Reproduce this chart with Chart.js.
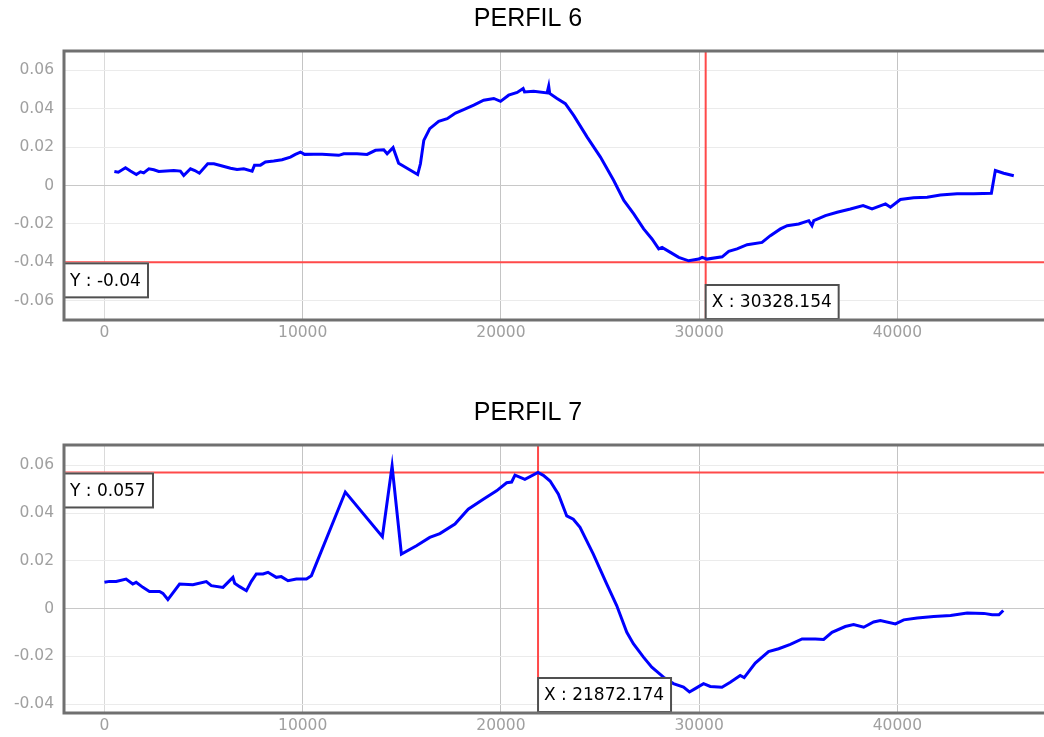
<!DOCTYPE html>
<html>
<head>
<meta charset="utf-8">
<script src="https://cdn.jsdelivr.net/npm/chart.js@4"></script>
<style>
  html, body { margin: 0; padding: 0; background: #fff; overflow: hidden; }
  body { width: 1044px; height: 737px; position: relative; }
  .panel { position: absolute; left: 0; width: 1056px; }
</style>
</head>
<body>
<div class="panel" style="top:0;height:360px"><canvas id="perfil6"></canvas></div>
<div class="panel" style="top:394px;height:359px"><canvas id="perfil7"></canvas></div>
<script>
// PERFIL 6 - distancia / valor
const perfil6X = [500, 700, 1060, 1310, 1610, 1820, 1980, 2240, 2490, 2740,
    3500, 3830, 4000, 4340, 4560, 4790, 5210, 5520, 5850, 6360,
    6690, 7030, 7450, 7570, 7870, 8120, 8540, 8960, 9380, 9630,
    9890, 10090, 10560, 10980, 11820, 12070, 12740, 13250, 13670, 14090,
    14260, 14560, 14840, 15800, 15940, 16110, 16410, 16860, 17290, 17710,
    18120, 18630, 19130, 19640, 19980, 20390, 20820, 21120, 21190, 21650,
    22330, 22410, 22460, 22830, 23250, 23670, 24350, 25020, 25690, 26200,
    26700, 27200, 27620, 27960, 28130, 28550, 28970, 29470, 29980, 30150,
    30400, 31160, 31490, 31910, 32420, 33170, 33590, 34100, 34440, 35020,
    35530, 35690, 35780, 36370, 36960, 37630, 38270, 38720, 39400, 39650,
    40150, 40820, 41500, 42170, 43010, 43850, 44740, 44940, 45360, 45870];
const perfil6Y = [0.0073, 0.0069, 0.0092, 0.0075, 0.0057, 0.0071, 0.0066, 0.0087, 0.0082, 0.0073,
    0.0078, 0.0075, 0.0052, 0.0087, 0.0078, 0.0064, 0.0113, 0.0113, 0.0104, 0.0090,
    0.0083, 0.0087, 0.0075, 0.0106, 0.0106, 0.0122, 0.0127, 0.0134, 0.0148, 0.0162,
    0.0174, 0.0162, 0.0163, 0.0163, 0.0157, 0.0165, 0.0165, 0.0162, 0.0183, 0.0186,
    0.0165, 0.0197, 0.0116, 0.0057, 0.0113, 0.0235, 0.0296, 0.0334, 0.0348, 0.0377,
    0.0395, 0.0418, 0.0444, 0.0453, 0.0438, 0.0470, 0.0484, 0.0505, 0.0487, 0.0490,
    0.0482, 0.0517, 0.0479, 0.0453, 0.0426, 0.0365, 0.0252, 0.0148, 0.0026, -0.0078,
    -0.0148, -0.0226, -0.0278, -0.0330, -0.0322, -0.0348, -0.0374, -0.0392, -0.0383, -0.0374,
    -0.0383, -0.0371, -0.0343, -0.0330, -0.0308, -0.0296, -0.0261, -0.0226, -0.0209, -0.0200,
    -0.0183, -0.0209, -0.0183, -0.0157, -0.0139, -0.0122, -0.0104, -0.0122, -0.0096, -0.0113,
    -0.0073, -0.0064, -0.0061, -0.0049, -0.0043, -0.0043, -0.0040, 0.0078, 0.0064, 0.0051];

// PERFIL 7
const perfil7X = [0, 250, 590, 1090, 1430, 1600, 1940, 2270, 2780, 2950,
    3200, 3790, 4460, 5140, 5390, 5980, 6230, 6480, 6570, 6820,
    7160, 7410, 7660, 8000, 8250, 8670, 8920, 9260, 9680, 10190,
    10440, 12150, 14020, 14510, 14980, 15740, 16410, 16920, 17680, 18350,
    19110, 19780, 20290, 20540, 20710, 21210, 21870, 22140, 22480, 22900,
    23320, 23650, 23990, 24660, 25340, 25840, 26350, 26680, 27190, 27610,
    28200, 28700, 29210, 29510, 29800, 30220, 30560, 31150, 31570, 32070,
    32270, 32830, 33500, 34010, 34600, 35190, 35860, 36280, 36700, 37370,
    37790, 38300, 38800, 39140, 39900, 40320, 41000, 41830, 42680, 43520,
    44360, 44780, 45120, 45340];
const perfil7Y = [0.0110, 0.0114, 0.0114, 0.0124, 0.0103, 0.0110, 0.0089, 0.0072, 0.0072, 0.0064,
    0.0038, 0.0103, 0.0100, 0.0113, 0.0096, 0.0089, 0.0110, 0.0131, 0.0106, 0.0092,
    0.0075, 0.0114, 0.0145, 0.0145, 0.0152, 0.0131, 0.0134, 0.0117, 0.0124, 0.0124,
    0.0138, 0.0488, 0.0301, 0.0597, 0.0228, 0.0263, 0.0298, 0.0314, 0.0354, 0.0416,
    0.0458, 0.0493, 0.0527, 0.0530, 0.0559, 0.0541, 0.0570, 0.0558, 0.0534, 0.0479,
    0.0388, 0.0374, 0.0340, 0.0228, 0.0103, 0.0013, -0.0099, -0.0147, -0.0203, -0.0245,
    -0.0287, -0.0314, -0.0329, -0.0349, -0.0335, -0.0314, -0.0326, -0.0329, -0.0308, -0.0280,
    -0.0289, -0.0228, -0.0180, -0.0168, -0.0150, -0.0127, -0.0127, -0.0129, -0.0099, -0.0075,
    -0.0067, -0.0078, -0.0056, -0.0050, -0.0064, -0.0047, -0.0039, -0.0033, -0.0029, -0.0018,
    -0.0020, -0.0026, -0.0026, -0.0008];

// cursor positions shown on each profile
const cursor6 = { x: 30328.154, y: -0.04 };
const cursor7 = { x: 21872.174, y: 0.057 };

// axis ticks
const xTicks = [0, 10000, 20000, 30000, 40000];
const yTicks6 = [-0.06, -0.04, -0.02, 0, 0.02, 0.04, 0.06];
const yTicks7 = [-0.04, -0.02, 0, 0.02, 0.04, 0.06];

const X_MIN = -2040;
const X_MAX = 48000;

const TICK_FONT = { family: '"DejaVu Sans", Verdana, sans-serif', size: 15.5 };

// marco gris del area de trazado (sin lado derecho)
const framePlugin = {
    id: 'frame',
    afterDraw(chart) {
        const { ctx, chartArea: a } = chart;
        ctx.save();
        ctx.strokeStyle = '#707070';
        ctx.lineWidth = 3;
        ctx.beginPath();
        ctx.moveTo(a.right + 10, a.top);
        ctx.lineTo(a.left, a.top);
        ctx.lineTo(a.left, a.bottom);
        ctx.lineTo(a.right + 10, a.bottom);
        ctx.stroke();
        ctx.restore();
    }
};

function labelBox(ctx, text, x, top) {
    ctx.font = '17px "DejaVu Sans", Verdana, sans-serif';
    const w = Math.round(ctx.measureText(text).width) + 15;
    const h = 36;
    ctx.fillStyle = '#fff';
    ctx.fillRect(x, top, w, h);
    ctx.strokeStyle = '#505050';
    ctx.lineWidth = 2;
    ctx.strokeRect(x + 1, top + 1, w - 2, h - 2);
    ctx.fillStyle = '#000';
    ctx.textBaseline = 'middle';
    ctx.textAlign = 'left';
    ctx.fillText(text, x + 7, top + h / 2 + 1);
}

// lineas rojas del cursor y sus etiquetas
const crosshairPlugin = {
    id: 'crosshair',
    beforeDatasetsDraw(chart, args, opts) {
        const { ctx, chartArea: a, scales } = chart;
        const px = scales.x.getPixelForValue(opts.x);
        const py = scales.y.getPixelForValue(opts.y);
        ctx.save();
        ctx.strokeStyle = '#ff4a4a';
        ctx.lineWidth = 2;
        ctx.beginPath();
        ctx.moveTo(a.left, py);
        ctx.lineTo(a.right + 10, py);
        ctx.moveTo(px, a.top);
        ctx.lineTo(px, a.bottom);
        ctx.stroke();
        ctx.restore();
    },
    afterDraw(chart, args, opts) {
        const { ctx, chartArea: a, scales } = chart;
        const px = scales.x.getPixelForValue(opts.x);
        const py = scales.y.getPixelForValue(opts.y);
        ctx.save();
        labelBox(ctx, 'Y : ' + opts.y, a.left - 1, py);
        labelBox(ctx, 'X : ' + opts.x, px - 1, a.bottom - 36);
        ctx.restore();
    }
};

function drawPerfil(canvasId, title, xs, ys, yMin, yMax, yTicks, cursor) {
    const ctx = document.getElementById(canvasId).getContext('2d');
    return new Chart(ctx, {
        type: 'line',
        data: {
            datasets: [{
                label: title,
                data: xs.map((x, i) => ({ x, y: ys[i] })),
                borderColor: '#0000ff',
                backgroundColor: 'transparent',
                borderWidth: 3,
                pointRadius: 0,
                tension: 0,
                fill: false
            }]
        },
        options: {
            responsive: true,
            maintainAspectRatio: false,
            animation: false,
            layout: { padding: 0 },
            plugins: {
                legend: { display: false },
                tooltip: { enabled: false },
                title: {
                    display: true,
                    text: title,
                    color: '#000',
                    font: { family: '"Liberation Sans", Arial, sans-serif', size: 25, weight: 'normal' },
                    padding: { top: 4, bottom: 17 }
                },
                crosshair: cursor
            },
            scales: {
                x: {
                    type: 'linear',
                    min: X_MIN,
                    max: X_MAX,
                    afterBuildTicks: s => { s.ticks = xTicks.map(v => ({ value: v })); },
                    afterFit: s => { s.height = 40; },
                    border: { display: false },
                    grid: {
                        drawTicks: false,
                        color: c => c.tick && c.tick.value === 0 ? '#dadada' : '#c4c4c4'
                    },
                    ticks: {
                        padding: 4,
                        maxRotation: 0,
                        autoSkip: false,
                        color: '#a0a0a0',
                        font: TICK_FONT,
                        callback: v => String(v)
                    }
                },
                y: {
                    min: yMin,
                    max: yMax,
                    afterBuildTicks: s => { s.ticks = yTicks.map(v => ({ value: v })); },
                    afterFit: s => { s.width = 64; },
                    border: { display: false },
                    grid: {
                        drawTicks: false,
                        color: c => c.tick && Math.abs(c.tick.value) < 1e-9 ? '#c8c8c8' : '#ebebeb'
                    },
                    ticks: {
                        padding: 10,
                        autoSkip: false,
                        color: '#a0a0a0',
                        font: TICK_FONT,
                        callback: v => String(+v.toFixed(2))
                    }
                }
            }
        },
        plugins: [crosshairPlugin, framePlugin]
    });
}

drawPerfil('perfil6', 'PERFIL 6', perfil6X, perfil6Y, -0.07, 0.07, yTicks6, cursor6);
drawPerfil('perfil7', 'PERFIL 7', perfil7X, perfil7Y, -0.0437, 0.0685, yTicks7, cursor7);
</script>
</body>
</html>
